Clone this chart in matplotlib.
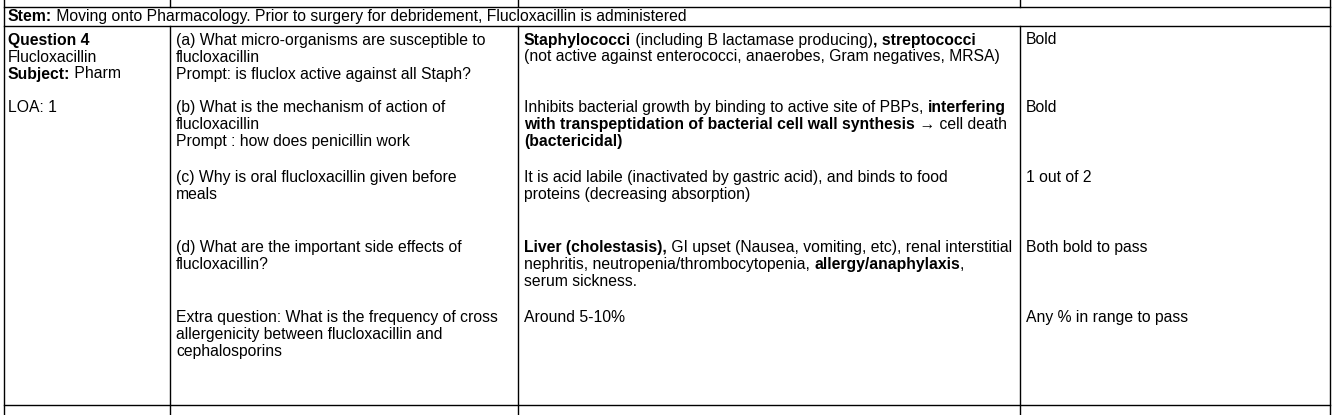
import matplotlib
matplotlib.use("Agg")
import matplotlib.pyplot as plt

W, H = 1333, 415
FONT = "Liberation Sans"
FS = 11.3

col_x = [4, 170, 518, 1020, 1330]
row_y = [7, 26, 405]

stem = [("Stem:", True), (" Moving onto Pharmacology. Prior to surgery for debridement, Flucloxacillin is administered", False)]

col1 = [(40, [("Question 4", True)]), (57, [("Flucloxacillin", False)]),
        (74, [("Subject:", True), (" Pharm", False)]), (107, [("LOA: 1", False)])]

col2 = [(40, "(a) What micro-organisms are susceptible to"), (57, "flucloxacillin"),
        (74, "Prompt: is fluclox active against all Staph?"),
        (107, "(b) What is the mechanism of action of"), (124, "flucloxacillin"),
        (141, "Prompt : how does penicillin work"),
        (177, "(c) Why is oral flucloxacillin given before"), (194, "meals"),
        (247, "(d) What are the important side effects of"), (264, "flucloxacillin?"),
        (317, "Extra question: What is the frequency of cross"),
        (334, "allergenicity between flucloxacillin and"), (351, "cephalosporins")]

col3 = [(40, [("Staphylococci", True), (" (including B lactamase producing)", False), (", streptococci", True)]),
        (57, [("(not active against enterococci, anaerobes, Gram negatives, MRSA)", False)]),
        (107, [("Inhibits bacterial growth by binding to active site of PBPs, ", False), ("interfering", True)]),
        (124, [("with transpeptidation of bacterial cell wall synthesis", True), (" \u2192 cell death", False)]),
        (141, [("(bactericidal)", True)]),
        (177, [("It is acid labile (inactivated by gastric acid), and binds to food", False)]),
        (194, [("proteins (decreasing absorption)", False)]),
        (247, [("Liver (cholestasis),", True), (" GI upset (Nausea, vomiting, etc), renal interstitial", False)]),
        (264, [("nephritis, neutropenia/thrombocytopenia, ", False), ("allergy/anaphylaxis", True), (",", False)]),
        (281, [("serum sickness.", False)]),
        (317, [("Around 5-10%", False)])]

col4 = [(40, "Bold"), (107, "Bold"), (177, "1 out of 2"), (247, "Both bold to pass"), (317, "Any % in range to pass")]

fig = plt.figure(figsize=(W/100, H/100), dpi=100)
ax = fig.add_axes([0, 0, 1, 1])
ax.set_xlim(0, W); ax.set_ylim(H, 0); ax.axis("off")
fig.canvas.draw()
r = fig.canvas.get_renderer()

def runs(x, y, parts):
    for s, b in parts:
        t = ax.text(x, y, s, fontsize=FS, family=FONT, fontweight="bold" if b else "normal",
                    va="center", ha="left", color="black")
        bb = t.get_window_extent(renderer=r)
        x += bb.width
    return x

lw = 1.0
for y in row_y:
    ax.plot([col_x[0], col_x[-1]], [y, y], color="black", lw=lw)
for x in [col_x[0], col_x[-1]]:
    ax.plot([x, x], [0, H], color="black", lw=lw)
for x in col_x[1:-1]:
    ax.plot([x, x], [0, 7], color="black", lw=lw)
    ax.plot([x, x], [26, H], color="black", lw=lw)

runs(8, 16.5, stem)
for y, p in col1: runs(8, y, p)
for y, s in col2: runs(176, y, [(s, False)])
for y, p in col3: runs(524, y, p)
for y, s in col4: runs(1026, y, [(s, False)])

fig.savefig("out.png", dpi=100)
